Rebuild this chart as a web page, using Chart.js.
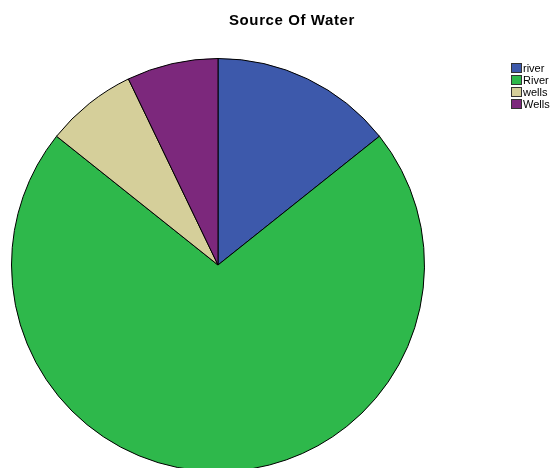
<!DOCTYPE html>
<html>
<head>
<meta charset="utf-8">
<script src="https://cdn.jsdelivr.net/npm/chart.js@4"></script>
<style>
  html, body { margin: 0; padding: 0; background: #fff; overflow: hidden; width: 555px; height: 468px; }
  #wrap { position: relative; width: 555px; height: 480px; }
</style>
</head>
<body>
<div id="wrap"><canvas id="waterPie" width="555" height="480"></canvas></div>
<script>
const categories = ['river', 'River', 'wells', 'Wells'];
const counts = [2, 10, 1, 1];
const sliceColors = ['#3d59ab', '#2eb84b', '#d5cf9a', '#7c287c'];

// title and legend drawn straight onto the canvas
const decorations = {
    id: 'decorations',
    afterDraw(chart) {
        const ctx = chart.ctx;
        ctx.save();
        ctx.fillStyle = '#000';
        ctx.font = 'bold 15px "Liberation Sans", Arial, sans-serif';
        ctx.letterSpacing = '0.6px';
        ctx.textAlign = 'left';
        ctx.textBaseline = 'alphabetic';
        ctx.fillText('Source Of Water', 229, 25);
        ctx.letterSpacing = '0px';

        ctx.font = '11px "Liberation Sans", Arial, sans-serif';
        ctx.textBaseline = 'middle';
        categories.forEach(function(name, i) {
            const y = 68 + i * 12;
            ctx.fillStyle = sliceColors[i];
            ctx.fillRect(512, y - 4, 9, 8);
            ctx.strokeStyle = '#333';
            ctx.lineWidth = 1;
            ctx.strokeRect(511.5, y - 4.5, 10, 9);
            ctx.fillStyle = '#000';
            ctx.fillText(name, 523, y + 1);
        });
        ctx.restore();
    }
};

const ctx = document.getElementById('waterPie').getContext('2d');
new Chart(ctx, {
    type: 'pie',
    data: {
        labels: categories,
        datasets: [{
            data: counts,
            backgroundColor: sliceColors,
            borderColor: '#000',
            borderWidth: 1
        }]
    },
    options: {
        responsive: false,
        animation: false,
        layout: { padding: { left: 11, right: 130, top: 58, bottom: 8 } },
        plugins: {
            legend: { display: false },
            title: { display: false },
            tooltip: { enabled: false }
        }
    },
    plugins: [decorations]
});
</script>
</body>
</html>
